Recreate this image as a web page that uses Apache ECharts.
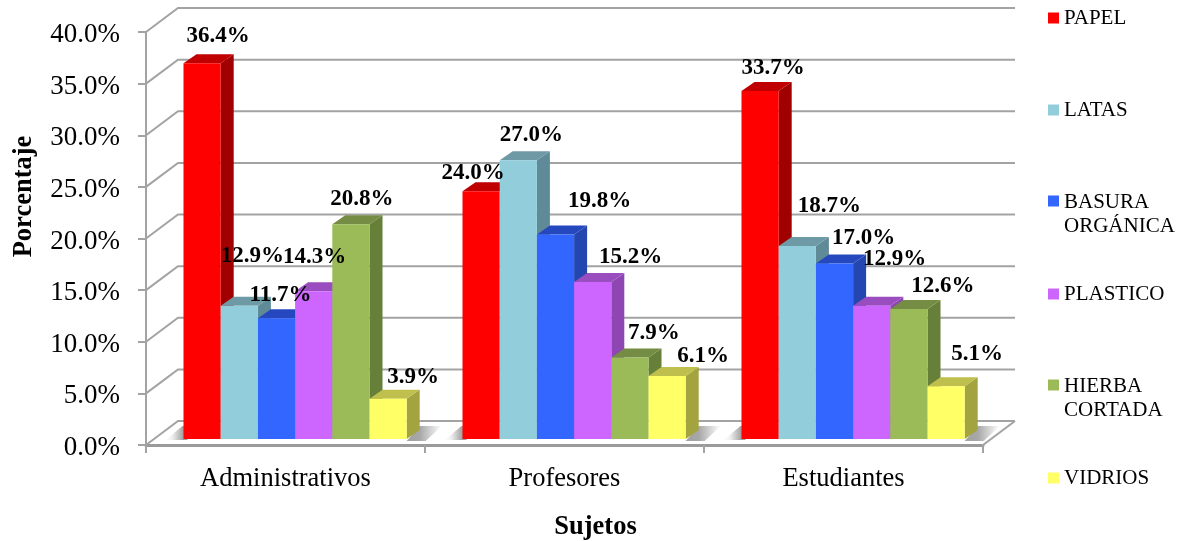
<!DOCTYPE html>
<html><head><meta charset="utf-8">
<style>html,body{margin:0;padding:0;background:#fff}#c{width:1178px;height:541px}</style>
<script src="https://cdn.jsdelivr.net/npm/echarts@6/dist/echarts.min.js"></script>
</head><body><div id="c"></div>
<script>
const categories = ['Administrativos','Profesores','Estudiantes'];
const yTicks = [0,5,10,15,20,25,30,35,40];
const seriesNames = ['PAPEL','LATAS','BASURA ORGÁNICA','PLASTICO','HIERBA CORTADA','VIDRIOS'];
const papel   = [36.4,24.0,33.7];
const latas   = [12.9,27.0,18.7];
const basura  = [11.7,19.8,17.0];
const plastico= [14.3,15.2,12.9];
const hierba  = [20.8,7.9,12.6];
const vidrios = [3.9,6.1,5.1];
const seriesValues = [papel,latas,basura,plastico,hierba,vidrios];

// Styling / layout (not data)
const faces = [
 ['#FF0000','#A00000','#C00000'],
 ['#92CDDC','#5F8A97','#6E9AA6'],
 ['#3366FF','#2446B0','#2648BF'],
 ['#CC66FF','#8E47B2','#9A4DBF'],
 ['#9BBB59','#66803A','#748C43'],
 ['#FFFF66','#A3A33F','#BFBF4D']
];
const labelNudge = [
 [[16,-27],[-8,-18],[13,-23]],
 [[13,-50],[13,-25],[32,-40]],
 [[4,-23],[44,-34],[29,-25]],
 [[1,-34],[38,-25],[23,-47]],
 [[11,-25],[24,-24],[34,-23]],
 [[25,-22],[36,-20],[31,-32]]
];
const wallDx = 32, wallDy = -24, barDx = 13, barDy = -9, floorUp = 6, bandInset = 37.5, barShare = 37.2/279;
const gridColor = '#A3A3A3';
const serif = '"Liberation Serif","Times New Roman",serif';

const wall = {
  type:'custom', silent:true, clip:false, z:1, coordinateSystem:'cartesian2d',
  data: yTicks.map(v=>[0,v]), encode:{x:0,y:1},
  renderItem(params,api){
    const cs = params.coordSys, y = api.coord([0,api.value(1)])[1];
    const x0 = cs.x, x1 = cs.x+cs.width;
    return {type:'polyline',shape:{points:[[x0,y],[x0+wallDx,y+wallDy],[x1+wallDx,y+wallDy]]},
      style:{stroke:gridColor,lineWidth:2,fill:null}, z2:1};
  }
};
const floorEdge = {
  type:'custom', silent:true, clip:false, z:1, coordinateSystem:'cartesian2d',
  data:[[0,0]], encode:{x:0,y:1},
  renderItem(params,api){
    const cs = params.coordSys, y = api.coord([0,0])[1], x1 = cs.x+cs.width;
    return {type:'line',shape:{x1:x1,y1:y,x2:x1+wallDx,y2:y+wallDy},style:{stroke:gridColor,lineWidth:2},z2:1};
  }
};
const floorShade = {
  type:'custom', silent:true, clip:false, z:1, coordinateSystem:'cartesian2d',
  data: categories.map((c,i)=>[i,0]), encode:{x:0,y:1},
  renderItem(params,api){
    const p = api.coord([api.value(0),0]), band = api.size([1,0])[0];
    const l = p[0]-band/2+bandInset, r = l+band*barShare*6, b = p[1]-floorUp;
    return {type:'group',children:[
      {type:'polygon',shape:{points:[[l-18,b+1],[l-1,b-13],[l+4,b-13],[l+4,b+1]]},
       style:{fill:new echarts.graphic.LinearGradient(0,0,1,0,[{offset:0,color:'#ffffff'},{offset:0.3,color:'#f0f0f0'},{offset:0.82,color:'#a0a0a0'},{offset:1,color:'#a0a0a0'}])},z2:2},
      {type:'polygon',shape:{points:[[r,b+2],[r+13,b-13],[r+35,b-13],[r+19,b+2]]},
       style:{fill:new echarts.graphic.LinearGradient(0,0,1,0,[{offset:0,color:'#a0a0a0'},{offset:0.38,color:'#a8a8a8'},{offset:1,color:'#ffffff'}])},z2:2}
    ]};
  }
};

const barSeries = seriesNames.map((name,s)=>({
  name, type:'custom', clip:false, z:2, coordinateSystem:'cartesian2d',
  itemStyle:{color:faces[s][0]},
  data: seriesValues[s].map((v,i)=>[i,v]), encode:{x:0,y:1},
  renderItem(params,api){
    const cat = api.value(0), v = api.value(1);
    const p0 = api.coord([cat,0]), pt = api.coord([cat,v]);
    const band = api.size([1,0])[0], w = band*barShare;
    const l = p0[0]-band/2+bandInset+s*w, r = l+w;
    const b = p0[1]-floorUp, t = pt[1]-floorUp;
    const f = faces[s], n = labelNudge[s][cat];
    return {type:'group',children:[
      {type:'polygon',z2:10+s,shape:{points:[[r,b],[r+barDx,b+barDy],[r+barDx,t+barDy],[r,t]]},style:{fill:f[1]}},
      {type:'polygon',z2:10+s,shape:{points:[[l,t],[l+barDx,t+barDy],[r+barDx,t+barDy],[r,t]]},style:{fill:f[2]}},
      {type:'rect',z2:10+s,shape:{x:l,y:t,width:w,height:b-t},style:{fill:f[0]}},
      {type:'text',z2:100,x:l+w/2+n[0],y:t+n[1],style:{text:v.toFixed(1)+'%',font:'bold 23px '+serif,fill:'#000',align:'center',verticalAlign:'middle'}}
    ]};
  }
}));

const legendTops = [6,98,190,282,374,466];
const tallIcon = 'path://M0 5.5H11V16.5H0ZM0 0H0.01V0.01H0ZM0 48H0.01V47.99H0Z';
const legends = seriesNames.map((name,s)=>{
  const two = name.includes(' ');
  return {
    show:true, data:[name], orient:'vertical', left:1048, top:legendTops[s], padding:0, selectedMode:false,
    itemWidth:11, itemHeight:two?48:11, icon:two?tallIcon:'rect',
    formatter:n=>n.replace(' ','\n'),
    textStyle:{fontFamily:serif,fontSize:21,lineHeight:24,color:'#000'}
  };
});

const chart = echarts.init(document.getElementById('c'),null,{renderer:'canvas'});
chart.setOption({
  animation:false, backgroundColor:'#fff',
  grid:{left:146,right:195,top:32,bottom:96,outerBoundsMode:'none'},
  legend:legends,
  xAxis:{type:'category',data:categories,boundaryGap:true,
    axisLine:{lineStyle:{color:'#9A9A9A',width:3}},
    axisTick:{show:true,length:8,alignWithLabel:false,lineStyle:{color:gridColor,width:2}},
    axisLabel:{fontFamily:serif,fontSize:26.5,color:'#000',margin:21},
    name:'Sujetos',nameLocation:'middle',nameGap:69,
    nameTextStyle:{fontFamily:serif,fontSize:26.5,fontWeight:'bold',color:'#000',padding:[0,0,0,62]}
  },
  yAxis:{type:'value',min:0,max:40,interval:5,
    axisLine:{show:true,lineStyle:{color:gridColor,width:2}},
    axisTick:{show:true,length:8,lineStyle:{color:gridColor,width:2}},
    splitLine:{show:false},
    axisLabel:{color:'#000',margin:26,formatter:v=>'{v|'+v.toFixed(1)+'%}',
      rich:{v:{fontFamily:serif,fontSize:27,color:'#000',padding:[6,0,0,0]}}},
    name:'Porcentaje',nameLocation:'middle',nameGap:108,nameRotate:90,
    nameTextStyle:{fontFamily:serif,fontSize:26.5,fontWeight:'bold',color:'#000',padding:[0,0,0,84]}
  },
  series:[wall,floorEdge,floorShade,...barSeries]
});
</script></body></html>
